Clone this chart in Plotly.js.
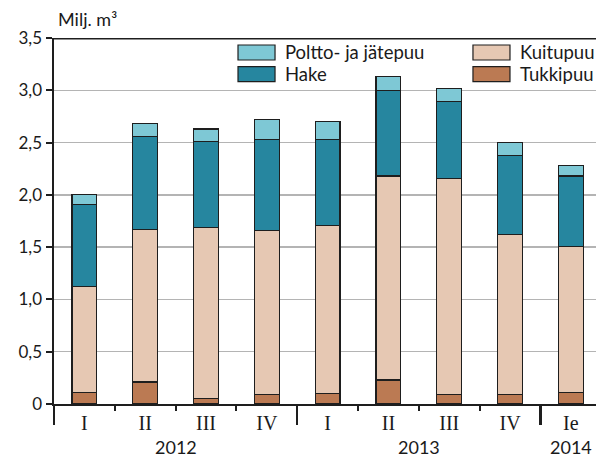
<!DOCTYPE html>
<html>
<head>
<meta charset="utf-8">
<script src="https://cdn.plot.ly/plotly-3.0.1.min.js"></script>
<style>html,body{margin:0;padding:0;overflow:hidden;background:#fff}#chart{width:596px;height:459px}</style>
</head>
<body>
<div id="chart"></div>
<script>
// ---- data ----
const quarters = ["I", "II", "III", "IV", "I", "II", "III", "IV", "Ie"];
const years = ["2012", "2013", "2014"];
const yearStart = [0, 4, 8];      // index of first quarter of each year
const yearSpan = [4, 4, 1];       // number of quarters shown for each year
const seriesNames = ["Tukkipuu", "Kuitupuu", "Hake", "Poltto- ja jätepuu"];
const tukkipuu = [0.11, 0.21, 0.05, 0.09, 0.10, 0.23, 0.09, 0.09, 0.11];
const kuitupuu = [1.01, 1.46, 1.64, 1.57, 1.61, 1.95, 2.07, 1.53, 1.40];
const hake     = [0.79, 0.89, 0.82, 0.87, 0.82, 0.82, 0.73, 0.76, 0.67];
const poltto   = [0.09, 0.12, 0.12, 0.19, 0.17, 0.13, 0.13, 0.12, 0.10];
const yTickVals = [0, 0.5, 1.0, 1.5, 2.0, 2.5, 3.0, 3.5];
const yTickText = ["0", "0,5", "1,0", "1,5", "2,0", "2,5", "3,0", "3,5"];
const yTitle = "Milj. m³";

// ---- styles ----
const colors = ["#bb7a53", "#e6c8b3", "#26869f", "#7ec8d5"];
const outline = "#1e1e1e";
const sans = "Lato, 'Open Sans', sans-serif";
const serif = "'Liberation Serif', 'DejaVu Serif', serif";
const dark = "#1e1e1e";

const x = quarters.map((_, i) => i);
const values = [tukkipuu, kuitupuu, hake, poltto];

const traces = values.map((v, k) => ({
  type: "bar",
  name: seriesNames[k],
  x: x,
  y: v,
  width: 0.41,
  marker: {color: colors[k], line: {color: outline, width: 1.2}},
  showlegend: false,
  hoverinfo: "y+name"
}));

// helper traces so overlay axes (tick marks) are drawn
traces.push({type: "scatter", x: [null], y: [null], xaxis: "x2", yaxis: "y", showlegend: false, hoverinfo: "skip"});
traces.push({type: "scatter", x: [null], y: [null], xaxis: "x3", yaxis: "y", showlegend: false, hoverinfo: "skip"});

const n = quarters.length;
const xRange = [-0.5, 8.414];

// boundaries between quarters
const shortTicks = [];
const longTicks = [];
for (let i = 0; i <= n; i++) {
  const b = i - 0.5;
  if (yearStart.includes(i)) longTicks.push(b); else if (i < n) shortTicks.push(b);
}

// legend (custom, to reproduce wide swatches)
const legendOrder = [3, 2, 1, 0]; // Poltto, Hake | Kuitupuu, Tukkipuu
const legCols = [0.3395, 0.773];
const legRows = [0.9809, 0.9216];
const swW = 0.0683, swH = 0.041;
const shapes = [];
const annotations = [];
legendOrder.forEach((k, j) => {
  const c = Math.floor(j / 2), r = j % 2;
  shapes.push({type: "rect", xref: "paper", yref: "paper",
    x0: legCols[c], x1: legCols[c] + swW, y0: legRows[r] - swH, y1: legRows[r],
    fillcolor: colors[k], line: {color: outline, width: 1.2}});
  annotations.push({xref: "paper", yref: "paper", x: legCols[c] + swW + 0.014, y: legRows[r] - swH / 2,
    xanchor: "left", yanchor: "middle", showarrow: false, text: seriesNames[k],
    font: {family: sans, size: 18.5, color: "#1a1a1a"}});
});

// top frame line
shapes.push({type: "line", xref: "paper", yref: "y", x0: 0, x1: 1, y0: 3.5, y1: 3.5,
  line: {color: dark, width: 3}});

// year labels
years.forEach((yr, i) => {
  annotations.push({xref: "x", yref: "paper", x: yearStart[i] + (yearSpan[i] - 1) / 2, y: 0,
    yshift: -43, xanchor: "center", yanchor: "middle", showarrow: false, text: yr,
    font: {family: sans, size: 18, color: "#1a1a1a"}});
});

// y title
annotations.push({xref: "paper", yref: "paper", x: 0.004, y: 1, yshift: 19, xanchor: "left", yanchor: "middle",
  showarrow: false, text: yTitle, font: {family: sans, size: 18, color: "#1a1a1a"}});

const layout = {
  width: 612, height: 459,
  margin: {l: 54, r: 16, t: 38, b: 55},
  paper_bgcolor: "#fff", plot_bgcolor: "#fff",
  barmode: "stack",
  showlegend: false,
  xaxis: {
    range: xRange, tickvals: x, ticktext: quarters, ticks: "",
    showline: true, linecolor: dark, linewidth: 2,
    showgrid: false, zeroline: false,
    tickfont: {family: serif, size: 20, color: "#1a1a1a"},
    fixedrange: true
  },
  xaxis2: {
    overlaying: "x", anchor: "y", range: xRange, tickvals: shortTicks, showticklabels: false,
    ticks: "outside", ticklen: 6, tickwidth: 2, tickcolor: dark,
    showline: false, showgrid: false, zeroline: false
  },
  xaxis3: {
    overlaying: "x", anchor: "y", range: xRange, tickvals: longTicks, showticklabels: false,
    ticks: "outside", ticklen: 20, tickwidth: 2.5, tickcolor: dark,
    showline: false, showgrid: false, zeroline: false
  },
  yaxis: {
    range: [0, 3.5], tickvals: yTickVals, ticktext: yTickText,
    ticks: "outside", ticklen: 6, tickwidth: 2, tickcolor: dark,
    showline: true, linecolor: dark, linewidth: 2.5,
    showgrid: true, gridcolor: "#b4b4b4", gridwidth: 1.5, zeroline: false,
    tickfont: {family: sans, size: 17, color: "#1a1a1a"},
    fixedrange: true
  },
  shapes: shapes,
  annotations: annotations,
  bargap: 0.59
};

Plotly.newPlot("chart", traces, layout, {displayModeBar: false, staticPlot: true});
</script>
</body>
</html>
